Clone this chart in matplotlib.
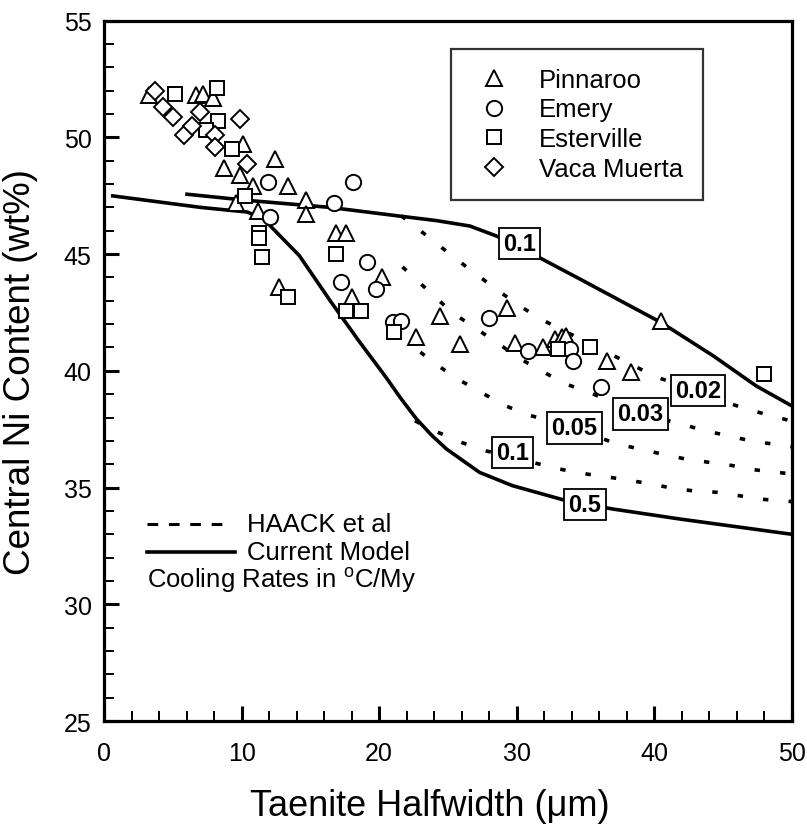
import matplotlib
matplotlib.use("Agg")
import matplotlib.pyplot as plt
from matplotlib.lines import Line2D
from matplotlib.ticker import MultipleLocator

plt.rcParams.update({"font.family": ["Liberation Sans", "DejaVu Sans"],
                     "mathtext.fontset": "custom",
                     "mathtext.rm": "Liberation Sans"})

# ---- measured data ------------------------------------------------------
pin_x = [3.3, 6.7, 7.2, 7.9, 10.1, 12.4, 8.7, 9.9, 10.85, 13.4, 14.7, 14.7,
         9.6, 11.2, 16.9, 17.6, 12.7, 18.0, 20.2, 22.7, 24.4, 29.3, 25.9,
         29.9, 31.9, 32.8, 33.3, 33.6, 36.6, 38.3, 40.5]
pin_y = [51.8, 51.8, 51.85, 51.7, 49.7, 49.07, 48.7, 48.4, 47.9, 47.9, 47.3,
         46.7, 47.2, 46.85, 45.9, 45.9, 43.6, 43.15, 44.0, 41.43, 42.36, 42.7,
         41.15, 41.2, 41.0, 41.36, 41.43, 41.5, 40.43, 39.96, 42.14]

emery_x = [11.9, 18.1, 16.7, 12.1, 17.2, 19.1, 19.8, 21.0, 21.6, 28.0, 30.8,
           33.9, 34.1, 36.1]
emery_y = [48.07, 48.07, 47.2, 46.6, 43.8, 44.64, 43.5, 42.07, 42.14, 42.26,
           40.86, 40.93, 40.43, 39.3]

ester_x = [5.16, 8.19, 8.3, 7.4, 9.3, 10.25, 11.3, 11.3, 11.5, 13.4, 16.9,
           17.6, 18.65, 21.1, 33.0, 35.3, 48.0]
ester_y = [51.85, 52.1, 50.7, 50.3, 49.5, 47.5, 45.9, 45.7, 44.86, 43.15, 45.0,
           42.57, 42.57, 41.65, 40.93, 41.0, 39.86]

vaca_x = [3.7, 4.3, 5.0, 5.8, 6.4, 7.0, 8.07, 8.07, 9.9, 10.4]
vaca_y = [52.0, 51.3, 50.85, 50.1, 50.5, 51.1, 50.1, 49.6, 50.8, 48.85]

# current model (solid)
cm01_x = [5.9, 10.4, 16.4, 21.3, 24.2, 26.6, 28.5, 30.2, 34.6, 40.5, 44.3, 47.4, 50]
cm01_y = [47.57, 47.3, 47.0, 46.64, 46.43, 46.2, 45.78, 45.3, 43.93, 42.07,
          40.64, 39.36, 38.5]
cm05_x = [0.5, 7.0, 10.4, 11.6, 14.2, 16.5, 18.5, 20.5, 21.6, 22.7, 23.8,
          24.9, 27.3, 29.7, 33.6, 37.0, 41.9, 50]
cm05_y = [47.5, 47.0, 46.8, 46.5, 44.93, 42.95, 41.3, 39.72, 38.8, 37.95,
          37.25, 36.65, 35.65, 35.08, 34.44, 34.08, 33.65, 33.0]

# HAACK et al (dotted)
h002_x = [21.6, 23.3, 25.0, 26.7, 28.4, 30.0, 31.8, 40.2, 43.2, 45.2, 46.8, 48.5, 50]
h002_y = [46.64, 45.86, 45.07, 44.29, 43.55, 42.86, 42.2, 39.72, 39.15, 38.65,
          38.36, 38.07, 37.85]
h003_x = [21.7, 23.7, 25.3, 27.1, 28.7, 30.3, 32.0, 33.6, 35.3, 37.0, 39.1,
          42.0, 43.7, 45.4, 47.0, 50]
h003_y = [44.45, 43.36, 42.5, 41.79, 41.15, 40.5, 39.93, 39.43, 39.07, 38.65,
          38.15, 37.72, 37.43, 37.22, 37.0, 36.75]
h005_x = [23.0, 23.8, 25.5, 27.2, 28.9, 30.6, 34.1, 37.3, 39.0, 40.6, 42.3,
          44.0, 45.7, 47.3, 49.0, 50]
h005_y = [40.8, 40.43, 39.72, 39.15, 38.58, 38.15, 37.58, 36.86, 36.65, 36.43,
          36.22, 36.08, 35.94, 35.76, 35.65, 35.58]
h01_x = [22.6, 24.3, 26.0, 27.7, 29.7, 32.6, 34.3, 36.0, 37.7, 39.4, 41.1,
         42.8, 44.5, 46.2, 47.8, 50]
h01_y = [37.86, 37.36, 36.93, 36.58, 36.3, 35.86, 35.65, 35.5, 35.36, 35.19,
         35.0, 34.86, 34.8, 34.65, 34.5, 34.4]

# curve labels: (text, x, y)
labels = [("0.1", 30.2, 45.45), ("0.5", 34.96, 34.28), ("0.02", 43.2, 39.15),
          ("0.03", 39.0, 38.16), ("0.05", 34.2, 37.56), ("0.1", 29.7, 36.5)]

# ---- figure ------------------------------------------------------------
fig = plt.figure(figsize=(8.07, 8.29), dpi=100)
ax = fig.add_axes([0.129, 0.129, 0.852, 0.845])

solid = dict(color="black", lw=2.6, solid_capstyle="butt")
dotted = dict(color="black", lw=2.6, ls=(0, (1.5, 5.6)))
ax.plot(cm01_x, cm01_y, **solid)
ax.plot(cm05_x, cm05_y, **solid)
for xs, ys in ((h002_x, h002_y), (h003_x, h003_y), (h005_x, h005_y), (h01_x, h01_y)):
    ax.plot(xs, ys, **dotted)

mk = dict(ls="none", mfc="white", mec="black", mew=1.4)
ax.plot(pin_x, pin_y, "^", ms=11, label="Pinnaroo", **mk)
ax.plot(emery_x, emery_y, "o", ms=11, label="Emery", **mk)
ax.plot(ester_x, ester_y, "s", ms=9.5, label="Esterville", **mk)
ax.plot(vaca_x, vaca_y, "D", ms=9, label="Vaca Muerta", **mk)

for t, x, y in labels:
    ax.text(x, y, t, ha="center", va="center", fontsize=17, fontweight="bold",
            zorder=5, bbox=dict(boxstyle="square,pad=0.18", fc="white",
                                ec="black", lw=1.3))

leg = ax.legend(loc="upper left", bbox_to_anchor=(0.504, 0.96), fontsize=18.5,
                frameon=True, fancybox=False, edgecolor="black",
                handlelength=1.9, handletextpad=0.8, labelspacing=0.22,
                borderpad=0.75, borderaxespad=0)
leg.get_frame().set_linewidth(1.6)
leg.get_frame().set_boxstyle("square,pad=0.0")

# model legend text (lower left)
ax.add_line(Line2D([0.0625, 0.176], [0.281, 0.281], transform=ax.transAxes,
                   color="black", lw=2.2, ls=(0, (3.5, 3.5))))
ax.add_line(Line2D([0.0625, 0.19], [0.241, 0.241], transform=ax.transAxes,
                   color="black", lw=2.6))
ax.text(0.208, 0.281, "HAACK et al", transform=ax.transAxes, fontsize=18.5,
        va="center")
ax.text(0.208, 0.241, "Current Model", transform=ax.transAxes, fontsize=18.5,
        va="center")
ax.text(0.0625, 0.203, "Cooling Rates in $^{\\rm o}$C/My",
        transform=ax.transAxes, fontsize=18.5, va="center")

ax.set_xlim(0, 50)
ax.set_ylim(25, 55)
ax.xaxis.set_major_locator(MultipleLocator(10))
ax.xaxis.set_minor_locator(MultipleLocator(2))
ax.yaxis.set_major_locator(MultipleLocator(5))
ax.yaxis.set_minor_locator(MultipleLocator(1))
ax.tick_params(which="both", direction="in", top=False, right=False,
               labelsize=18)
ax.tick_params(which="major", length=11, width=2.2)
ax.tick_params(which="minor", length=7, width=1.4)
ax.tick_params(axis="x", pad=14)
ax.tick_params(axis="y", pad=9)
for s in ax.spines.values():
    s.set_linewidth(2.3)

ax.set_xlabel("Taenite Halfwidth (\u03bcm)", fontsize=26)
ax.set_ylabel("Central Ni Content (wt%)", fontsize=26.5)
ax.xaxis.set_label_coords(0.474, -0.095)
ax.yaxis.set_label_coords(-0.096, 0.5)

fig.savefig("out.png", dpi=100)
